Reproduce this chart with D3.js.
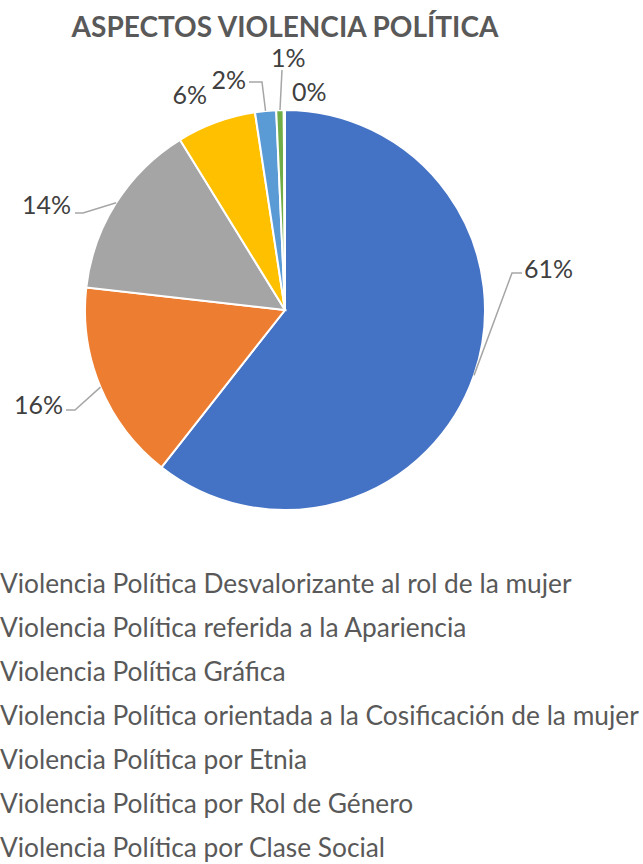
<!DOCTYPE html>
<html>
  <head>
    <meta charset="utf-8">
    <title>Aspectos Violencia Política</title>
    <script src="https://d3js.org/d3.v7.min.js"></script>
    <style>
      body { margin: 0; background: #fff; }
      svg { display: block; }
      .title { font-family: Lato, sans-serif; font-weight: bold; font-size: 28px; fill: #595959; }
      .pct { font-family: Lato, sans-serif; font-size: 25px; fill: #404040; }
      .legend text { font-family: Lato, sans-serif; font-size: 26.3px; fill: #595959; }
    </style>
  </head>
  <body>
    <svg width="643" height="864"></svg>
    <script>
      const categories = [
        "Violencia Política Desvalorizante al rol de la mujer",
        "Violencia Política referida a la Apariencia",
        "Violencia Política Gráfica",
        "Violencia Política orientada a la Cosificación de la mujer",
        "Violencia Política por Etnia",
        "Violencia Política por Rol de Género",
        "Violencia Política por Clase Social"
      ];
      const values = [60.6, 16.2, 14.4, 6.4, 1.7, 0.6, 0.1];
      const colors = ["#4472C4", "#ED7D31", "#A5A5A5", "#FFC000", "#5B9BD5", "#70AD47", "#264478"];

      // label anchors picked to mimic the best-fit placement
      const labelPos = [[524, 278, "start"], [63, 414, "end"], [71, 214, "end"], [207, 104, "end"],
                        [246, 89, "end"], [271, 67, "start"], [292, 101, "start"]];
      // leader elbow points (null = no leader)
      const elbows = [[512, 273, 522], [75, 410, 66], [83, 213, 75], null, [262, 82, 249], [282, 70, 282], null];

      function main() {
        const svg = d3.select("svg");
        const cx = 285, cy = 310, r = 200;

        svg.append("text").attr("class", "title")
          .attr("x", cx).attr("y", 37).attr("text-anchor", "middle")
          .text("ASPECTOS VIOLENCIA POLÍTICA");

        const pie = d3.pie().sort(null).value(d => d);
        const arcs = pie(values);
        const arc = d3.arc().innerRadius(0).outerRadius(r);
        const edge = d3.arc().innerRadius(r).outerRadius(r);

        const g = svg.append("g").attr("transform", `translate(${cx},${cy})`);
        g.selectAll("path").data(arcs).join("path")
          .attr("d", arc)
          .attr("fill", (d, i) => colors[i])
          .attr("stroke", "#fff")
          .attr("stroke-width", 2);

        // leader lines
        svg.append("g").selectAll("polyline").data(arcs.filter((d, i) => elbows[i]))
          .join("polyline")
          .attr("fill", "none").attr("stroke", "#A6A6A6").attr("stroke-width", 1.5)
          .attr("points", d => {
            const e = elbows[d.index];
            const [px, py] = edge.centroid(d);
            return [[cx + px, cy + py], [e[0], e[1]], [e[2], e[1]]].map(p => p.join(",")).join(" ");
          });

        svg.append("g").selectAll("text").data(arcs).join("text")
          .attr("class", "pct")
          .attr("x", (d, i) => labelPos[i][0])
          .attr("y", (d, i) => labelPos[i][1])
          .attr("text-anchor", (d, i) => labelPos[i][2])
          .text(d => Math.round(d.value) + "%");

        const legend = svg.append("g").attr("class", "legend");
        const item = legend.selectAll("g").data(categories).join("g")
          .attr("transform", (d, i) => `translate(0, ${584 + i * 44})`);
        item.append("rect")
          .attr("x", -20).attr("y", -6).attr("width", 12).attr("height", 12)
          .attr("fill", (d, i) => colors[i]);
        item.append("text")
          .attr("x", 0).attr("dy", "0.35em")
          .text(d => d);
      }
      main();
    </script>
  </body>
</html>
